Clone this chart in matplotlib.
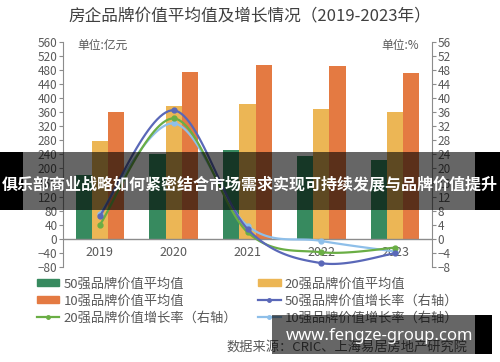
import numpy as np
import matplotlib.pyplot as plt
from matplotlib.patches import Rectangle
from matplotlib.lines import Line2D

plt.rcParams['font.family'] = ['Noto Sans CJK SC', 'DejaVu Sans']

# ---------------- datos ----------------
years = ['2019', '2020', '2021', '2022', '2023']
avg50 = [180, 242, 252, 234, 225]      # 亿元
avg20 = [279, 376, 384, 369, 361]
avg10 = [359, 474, 494, 492, 472]
g50 = [6.5, 36.5, 2.8, -6.9, -4.1]     # %
g20 = [4.0, 34.2, 1.9, -3.8, -2.5]
g10 = [7.2, 32.8, 3.7, -0.6, -3.6]

c_g, c_y, c_o = '#378a5f', '#ecb655', '#e47a42'
c_l50, c_l20, c_l10 = '#5a68b8', '#6aae45', '#8ebfe9'
txt = '#595959'
axc = '#8c8c8c'


def smooth(xs, ys, n=30):
    # curva suave tipo Excel (Bezier Catmull-Rom) sólo para el trazo
    p = np.column_stack([xs, ys]).astype(float)
    out = []
    for i in range(len(p) - 1):
        p0 = p[i - 1] if i > 0 else p[i]
        p1, p2 = p[i], p[i + 1]
        p3 = p[i + 2] if i + 2 < len(p) else p[i + 1]
        c1 = p1 + (p2 - p0) / 6
        c2 = p2 - (p3 - p1) / 6
        t = np.linspace(0, 1, n)[:, None]
        seg = (1 - t) ** 3 * p1 + 3 * (1 - t) ** 2 * t * c1 + 3 * (1 - t) * t ** 2 * c2 + t ** 3 * p2
        out.append(seg if i == 0 else seg[1:])
    out = np.vstack(out)
    return out[:, 0], out[:, 1]


fig = plt.figure(figsize=(5, 3.62), dpi=100)
ax = fig.add_axes([0.126, 0.2624, 0.738, 0.6224])
ax2 = ax.twinx()

x = np.arange(len(years))
w = 0.22
ax.bar(x - w, avg50, w, color=c_g)
ax.bar(x, avg20, w, color=c_y)
ax.bar(x + w, avg10, w, color=c_o)

for vals, col in [(g10, c_l10), (g20, c_l20), (g50, c_l50)]:
    sx, sy = smooth(x, vals)
    ax2.plot(sx, sy, color=col, lw=1.6)
    ax2.plot(x, vals, 'o', color=col, ms=3.5)

ax.set_xlim(-0.5, 4.5)
ax.set_ylim(-80, 560)
ax.set_yticks(range(-80, 561, 40))
ax2.set_ylim(-8, 56)
ax2.set_yticks(range(-8, 57, 4))
ax.set_xticks([])
ax.axhline(0, color=axc, lw=1)

for a in (ax, ax2):
    for s in ('top', 'bottom'):
        a.spines[s].set_visible(False)
    a.tick_params(axis='y', colors=txt, labelsize=8.5, length=3, width=0.8, pad=1, color=axc)
ax.spines['right'].set_visible(False)
ax2.spines['left'].set_visible(False)
ax.spines['left'].set_color(axc)
ax2.spines['right'].set_color(axc)

for i, yr in enumerate(years):
    ax.text(i, -19, yr, ha='center', va='top', fontsize=9, color=txt)

ax.text(0.04, 0.985, '单位:亿元', transform=ax.transAxes, fontsize=8.5, color=txt, va='center')
ax.text(0.965, 0.985, '单位:%', transform=ax.transAxes, fontsize=8.5, color=txt, va='center', ha='right')

fig.text(0.5, 0.955, '房企品牌价值平均值及增长情况（2019-2023年）', ha='center', va='center',
         fontsize=12, color='#404040')

# leyenda (orden por columnas)
h = [Rectangle((0, 0), 1, 1, color=c_g), Rectangle((0, 0), 1, 1, color=c_o),
     Line2D([], [], color=c_l20, lw=1.6, marker='o', ms=2.5),
     Rectangle((0, 0), 1, 1, color=c_y),
     Line2D([], [], color=c_l50, lw=1.6, marker='o', ms=2.5),
     Line2D([], [], color=c_l10, lw=1.6, marker='o', ms=2.5)]
lab = ['50强品牌价值平均值', '10强品牌价值平均值', '20强品牌价值增长率（右轴）',
       '20强品牌价值平均值', '50强品牌价值增长率（右轴）', '10强品牌价值增长率（右轴）']
fig.legend(h, lab, ncol=2, loc='upper left', bbox_to_anchor=(0.074, 0.233), frameon=False,
           fontsize=9.5, labelcolor=txt, handlelength=1.7, handleheight=0.45,
           handletextpad=0.3, columnspacing=1.6, labelspacing=0.3, borderaxespad=0, borderpad=0)

fig.text(0.934, 0.039, '数据来源：CRIC、上海易居房地产研究院', ha='right', va='center',
         fontsize=9.5, color=txt)

# franjas superpuestas de la imagen original
fig.patches.append(Rectangle((0, 1 - 210 / 362), 1, 58 / 362, transform=fig.transFigure,
                             color='black', alpha=0.6, zorder=10, lw=0))
fig.patches.append(Rectangle((0, 1 - 210 / 362), 23 / 500, 58 / 362, transform=fig.transFigure,
                             color='black', zorder=10, lw=0))
fig.patches.append(Rectangle((475 / 500, 1 - 210 / 362), 25 / 500, 58 / 362, transform=fig.transFigure,
                             color='black', zorder=10, lw=0))
fig.text(0.5, 1 - 184 / 362, '俱乐部商业战略如何紧密结合市场需求实现可持续发展与品牌价值提升',
         ha='center', va='center', fontsize=11.5, fontweight='bold', color='white', zorder=11)

fig.patches.append(Rectangle((272 / 500, 1 - 354 / 362), 203 / 500, 39 / 362, transform=fig.transFigure,
                             color='black', alpha=0.6, zorder=10, lw=0))
fig.patches.append(Rectangle((475 / 500, 1 - 354 / 362), 17 / 500, 39 / 362, transform=fig.transFigure,
                             color='black', zorder=10, lw=0))
fig.text(380 / 500, 1 - 336 / 362, 'www.fengze-group.com', ha='center', va='center',
         fontsize=12, fontweight='bold', color='white', zorder=11, family=['Noto Sans', 'DejaVu Sans'])

fig.savefig('out.png', dpi=100)
